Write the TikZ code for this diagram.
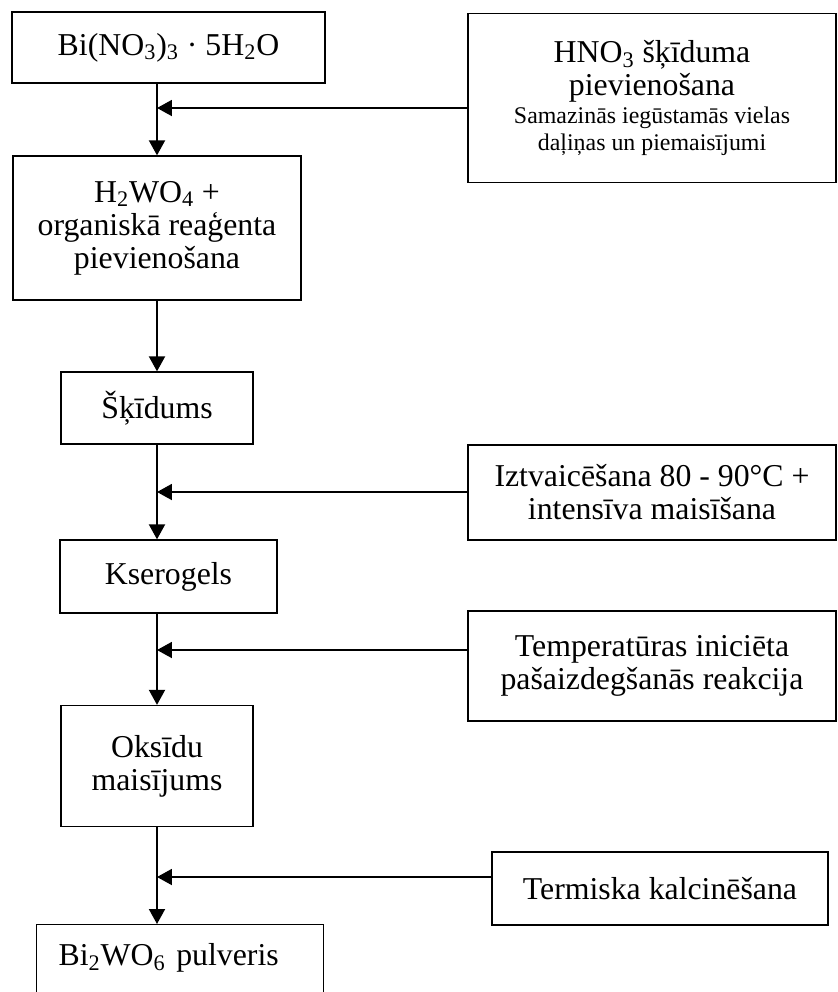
\documentclass[tikz,border=0pt]{standalone}
\usepackage{fontspec}
\setmainfont{Liberation Serif}
\usetikzlibrary{arrows.meta}
\usetikzlibrary{shapes}

\newcommand{\bigtxt}{\fontsize{18.1}{18.8}\selectfont}
\newcommand{\smalltxt}{\fontsize{13.6}{15.4}\selectfont}

\begin{document}
\begin{tikzpicture}[x=0.02cm,y=-0.02cm]
\tikzstyle{stage}=[rectangle,draw,line width=0.75pt,align=center,inner sep=0pt,font=\bigtxt]
\tikzstyle{flow}=[line width=1.1pt,-{Triangle[length=0.3cm,width=0.32cm]}]
\useasboundingbox (0,0) rectangle (838,992);

% main line
\node[stage, minimum width = 6.26cm,
    minimum height = 1.42cm] (b1) at (168.5,47.5) {Bi(NO\textsubscript{3})\textsubscript{3} · 5H\textsubscript{2}O};
\node[stage, minimum width = 5.76cm,
    minimum height = 2.88cm] (b2) at (157,228) {H\textsubscript{2}WO\textsubscript{4} +\\ organiskā reaģenta\\ pievienošana};
\node[stage, minimum width = 3.84cm,
    minimum height = 1.44cm] (b3) at (157,408) {Šķīdums};
\node[stage, minimum width = 4.34cm,
    minimum height = 1.46cm] (b4) at (168.5,576.5) {Kserogels};
\node[stage, minimum width = 3.84cm,
    minimum height = 2.42cm] (b5) at (157,766) {Oksīdu\\ maisījums};
\node[stage, anchor=north west, text width=4.86cm, align=left, inner xsep=0.44cm,
    text height=0.82cm, text depth=1.5cm] (b6) at (36,924) {Bi\textsubscript{2}WO\textsubscript{6} pulveris};

% side steps
\node[stage, minimum width = 7.36cm,
    minimum height = 3.38cm] (a1) at (652,98) {HNO\textsubscript{3} šķīduma\\ pievienošana\\[-0.1cm] \smalltxt Samazinās iegūstamās vielas\\[-0.12cm] \smalltxt daļiņas un piemaisījumi};
\node[stage, minimum width = 7.36cm,
    minimum height = 1.9cm] (a2) at (652,492.5) {Iztvaicēšana 80 - 90°C +\\ intensīva maisīšana};
\node[stage, minimum width = 7.36cm,
    minimum height = 2.2cm] (a3) at (652,666) {Temperatūras iniciēta\\ pašaizdegšanās reakcija};
\node[stage, minimum width = 6.72cm,
    minimum height = 1.46cm] (a4) at (660,888.5) {Termiska kalcinēšana};

\coordinate (m1) at (157,108);
\coordinate (m2) at (157,492);
\coordinate (m3) at (157,650);
\coordinate (m4) at (157,877);

\draw[flow] (b1.south -| b2.north) -- (b2.north);
\draw[flow] (b2.south) -- (b3.north);
\draw[flow] (b3.south) -- (b4.north -| b3.south);
\draw[flow] (b4.south -| b3.south) -- (b5.north);
\draw[flow] (b5.south) -- (b6.north -| b5.south);

\draw[flow] (a1.west |- m1) -- (m1);
\draw[flow] (a2.west |- m2) -- (m2);
\draw[flow] (a3.west |- m3) -- (m3);
\draw[flow] (a4.west |- m4) -- (m4);
\end{tikzpicture}
\end{document}
